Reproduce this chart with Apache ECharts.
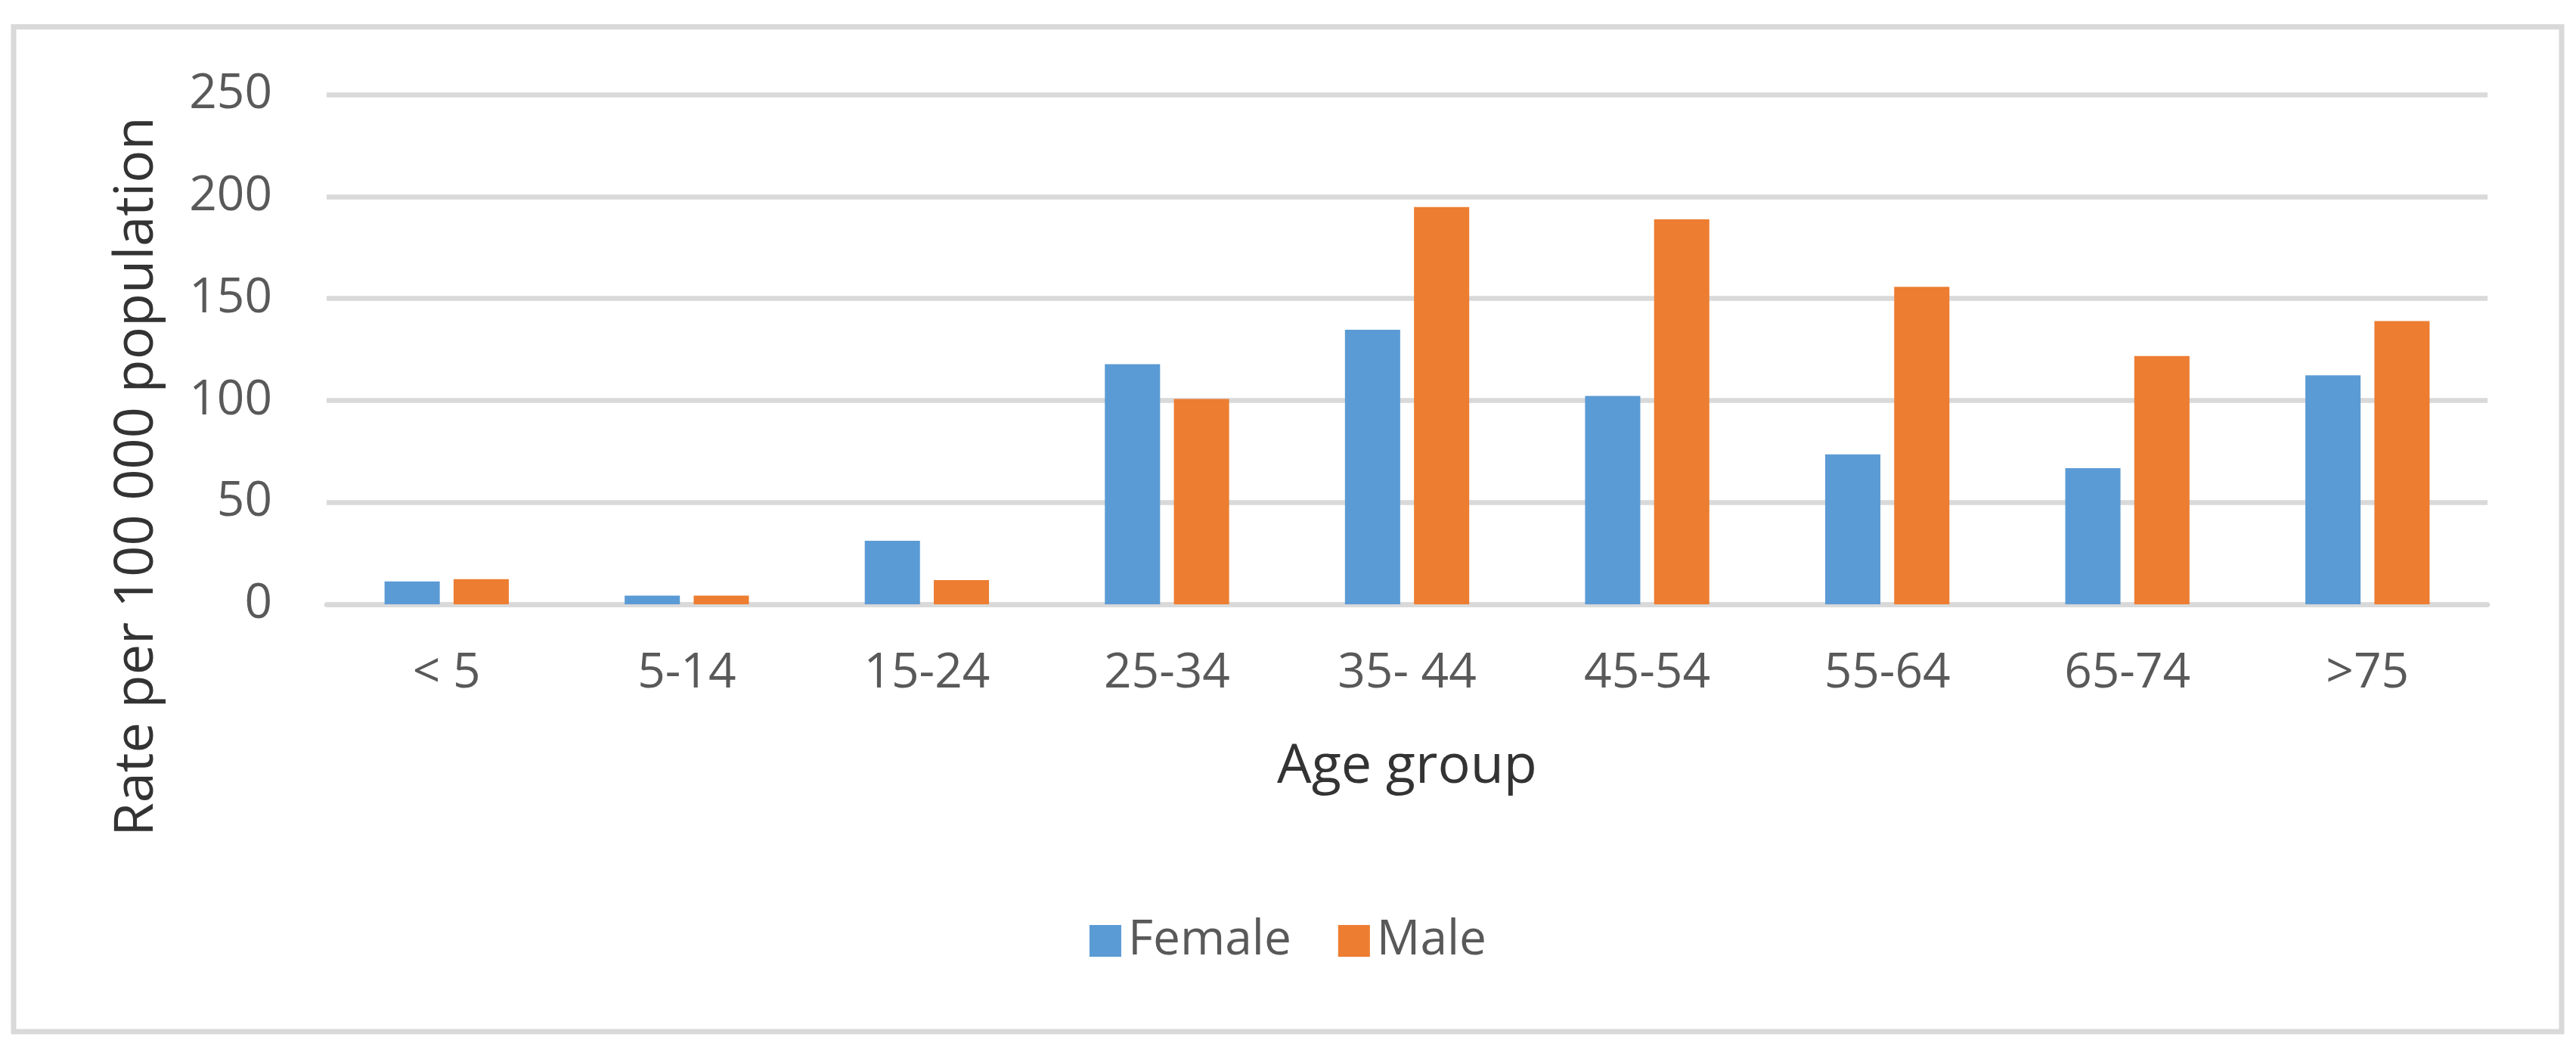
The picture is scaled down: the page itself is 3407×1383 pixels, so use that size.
<!DOCTYPE html>
<html>
<head>
<meta charset="utf-8">
<script src="https://cdn.jsdelivr.net/npm/echarts@6/dist/echarts.min.js"></script>
<style>
html,body{margin:0;padding:0;background:#fff;}
#chart{width:3407px;height:1383px;}
</style>
</head>
<body>
<div id="chart"></div>
<script>
const categories = ['< 5', '5-14', '15-24', '25-34', '35- 44', '45-54', '55-64', '65-74', '>75'];
const femaleValues = [11.2, 4.3, 31.2, 117.8, 134.6, 102.2, 73.5, 66.8, 112.3];
const maleValues = [12.3, 4.3, 11.9, 100.7, 194.8, 188.8, 155.7, 121.8, 138.9];
const yTicks = { min: 0, max: 250, interval: 50 };
const seriesNames = ['Female', 'Male'];
const xTitle = 'Age group';
const yTitle = 'Rate per 100 000 population';

const FONT = '"Open Sans", "Noto Sans", sans-serif';
const chart = echarts.init(document.getElementById('chart'), null, {renderer: 'canvas'});
chart.setOption({
  backgroundColor: '#ffffff',
  animation: false,
  textStyle: { fontFamily: FONT },
  graphic: [{
    type: 'rect',
    shape: { x: 18, y: 35.5, width: 3370, height: 1328.5 },
    style: { fill: 'none', stroke: '#d9d9d9', lineWidth: 7 },
    silent: true, z: -1
  }],
  grid: { left: 432, right: 117, top: 125, bottom: 584, containLabel: false },
  legend: {
    data: seriesNames,
    left: 'center',
    top: 1212,
    padding: 0,
    itemWidth: 42,
    itemHeight: 42,
    itemGap: 62,
    icon: 'rect',
    textStyle: { fontFamily: FONT, fontSize: 64, color: '#595959', padding: [0, 0, 0, 4] }
  },
  xAxis: {
    type: 'category',
    data: categories,
    name: xTitle,
    nameLocation: 'middle',
    nameGap: 179,
    nameTextStyle: { fontFamily: FONT, fontSize: 72, color: '#333333' },
    axisLine: { show: true, lineStyle: { color: '#d9d9d9', width: 6.5 } },
    axisTick: { show: false },
    axisLabel: { fontFamily: FONT, fontSize: 64, color: '#595959', margin: 60 }
  },
  yAxis: {
    type: 'value',
    min: yTicks.min,
    max: yTicks.max,
    interval: yTicks.interval,
    name: yTitle,
    nameLocation: 'middle',
    nameRotate: 90,
    nameGap: 215,
    nameTextStyle: { fontFamily: FONT, fontSize: 72, color: '#333333', padding: [0, 336, 0, 0] },
    axisLine: { show: false },
    axisTick: { show: false },
    axisLabel: { fontFamily: FONT, fontSize: 64, color: '#595959', margin: 72 },
    splitLine: { show: true, lineStyle: { color: '#d9d9d9', width: 6.5 } }
  },
  series: [
    { name: seriesNames[0], type: 'bar', data: femaleValues, barWidth: '23%', barGap: '25%',
      itemStyle: { color: '#5B9BD5' } },
    { name: seriesNames[1], type: 'bar', data: maleValues, barWidth: '23%', barGap: '25%',
      itemStyle: { color: '#ED7D31' } }
  ]
});
</script>
</body>
</html>
